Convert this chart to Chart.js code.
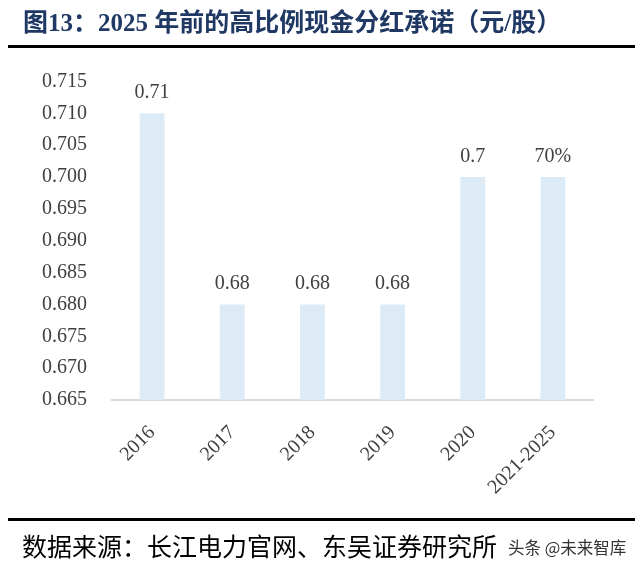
<!DOCTYPE html>
<html>
<head>
<meta charset="utf-8">
<script src="https://cdn.jsdelivr.net/npm/chart.js@4.4.0/dist/chart.umd.min.js"></script>
<style>
  html, body { margin: 0; padding: 0; background: #fff; }
  #wrap { position: relative; width: 640px; height: 571px; overflow: hidden; }
  #c { position: absolute; left: 0; top: 0; }
  .title { position: absolute; left: 23px; top: 8px; font: bold 25px "Liberation Serif", "Noto Sans CJK SC", serif; color: #1F3864; white-space: nowrap; line-height: 30px; }
  .rule { position: absolute; left: 8px; width: 627px; height: 3px; background: #000; }
  .src { position: absolute; left: 22px; top: 530px; font: 25px "Noto Sans CJK SC", sans-serif; color: #000; white-space: nowrap; line-height: 30px; }
  .wm { position: absolute; left: 508px; top: 537px; font: 16.5px "Noto Sans CJK SC", sans-serif; color: #333; white-space: nowrap; line-height: 20px; }
</style>
</head>
<body>
<div id="wrap">
  <canvas id="c" width="640" height="571"></canvas>
  <div class="title">图13：2025 年前的高比例现金分红承诺（元/股）</div>
  <div class="rule" style="top:45px"></div>
  <div class="rule" style="top:518px"></div>
  <div class="src">数据来源：长江电力官网、东吴证券研究所</div>
  <div class="wm">头条 @未来智库</div>
</div>
<script>
const categories = ["2016", "2017", "2018", "2019", "2020", "2021-2025"];
const dividendValues = [0.71, 0.68, 0.68, 0.68, 0.70, 0.70];
const valueLabels = ["0.71", "0.68", "0.68", "0.68", "0.7", "70%"];
const yMin = 0.665, yMax = 0.715, yStep = 0.005;

const serif = '"Liberation Serif", "Times New Roman", serif';
const textColor = '#404040';

const labelPlugin = {
  id: 'valueLabels',
  afterDatasetsDraw(chart) {
    const ctx = chart.ctx;
    const meta = chart.getDatasetMeta(0);
    ctx.save();
    ctx.font = '20px ' + serif;
    ctx.fillStyle = textColor;
    ctx.textAlign = 'center';
    ctx.textBaseline = 'alphabetic';
    meta.data.forEach((bar, i) => {
      ctx.fillText(valueLabels[i], bar.x, bar.y - 15);
    });
    ctx.restore();
  }
};

new Chart(document.getElementById('c'), {
  type: 'bar',
  data: {
    labels: categories,
    datasets: [{
      data: dividendValues,
      backgroundColor: '#DDEBF7',
      borderWidth: 0,
      barPercentage: 0.31,
      categoryPercentage: 1
    }]
  },
  options: {
    responsive: false,
    animation: false,
    devicePixelRatio: 1,
    layout: { padding: { top: 81.5, right: 47, bottom: 0, left: 0 } },
    plugins: { legend: { display: false }, tooltip: { enabled: false }, title: { display: false } },
    scales: {
      y: {
        min: yMin, max: yMax,
        afterFit(scale) { scale.width = 112; },
        border: { display: false },
        grid: { display: false, drawTicks: false },
        ticks: {
          stepSize: yStep,
          padding: 25,
          color: textColor,
          font: { family: serif, size: 20 },
          callback: v => v.toFixed(3)
        }
      },
      x: {
        afterFit(scale) { scale.height = 171; },
        border: { display: true, color: '#D9D9D9', width: 2 },
        grid: { display: false, drawTicks: false },
        ticks: {
          minRotation: 45, maxRotation: 45,
          padding: 21,
          color: textColor,
          font: { family: serif, size: 20 }
        }
      }
    }
  },
  plugins: [labelPlugin]
});
</script>
</body>
</html>
